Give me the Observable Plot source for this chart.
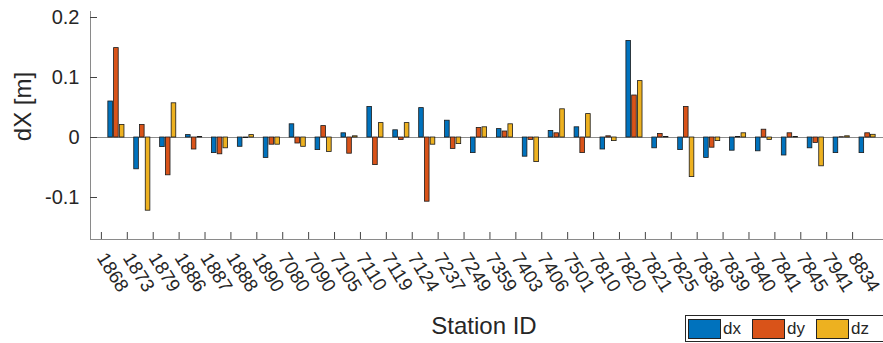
<!DOCTYPE html>
<html>
<head>
<meta charset="utf-8">
<script src="https://cdn.jsdelivr.net/npm/d3@7"></script>
<script src="https://cdn.jsdelivr.net/npm/@observablehq/plot@0.6"></script>
<style>
  html, body { margin: 0; padding: 0; background: #fff; overflow: hidden; }
  #wrap { position: relative; width: 883px; height: 343px; overflow: hidden;
          font-family: "Liberation Sans", Arial, sans-serif; color: #262626; }
  #wrap svg { overflow: visible; }
  g[aria-label="y-axis tick label"] { font-size: 20px; }
  g[aria-label="x-axis tick label"] { font-size: 19px; }
  #legend { position: absolute; left: 685px; top: 315px; height: 25px; width: 220px;
            border: 1px solid #262626; background: #fff; display: flex; align-items: center;
            font-size: 17px; box-sizing: content-box; }
  #legend .sw { width: 31px; height: 18px; border: 1px solid #222; flex: none; }
  #legend .lb { padding-left: 2px; width: 29px; flex: none; line-height: 25px; }
</style>
</head>
<body>
<div id="wrap"></div>
<script>
const stations = ["1868","1873","1879","1886","1887","1888","1890","7080","7090","7105",
  "7110","7119","7124","7237","7249","7359","7403","7406","7501","7810",
  "7820","7821","7825","7838","7839","7840","7841","7845","7941","8834"];
const dx = [0.060, -0.053, -0.016, 0.004, -0.026, -0.0155, -0.034, 0.022, -0.021, 0.007,
  0.051, 0.012, 0.049, 0.028, -0.026, 0.014, -0.032, 0.011, 0.017, -0.020,
  0.161, -0.018, -0.021, -0.034, -0.022, -0.023, -0.030, -0.018, -0.026, -0.026];
const dy = [0.149, 0.021, -0.063, -0.020, -0.028, -0.001, -0.012, -0.010, 0.019, -0.027,
  -0.046, -0.004, -0.107, -0.019, 0.016, 0.010, -0.004, 0.007, -0.026, 0.002,
  0.070, 0.006, 0.051, -0.017, 0.001, 0.013, 0.007, -0.009, 0.0005, 0.007];
const dz = [0.021, -0.122, 0.057, 0.001, -0.018, 0.004, -0.012, -0.0155, -0.024, 0.002,
  0.024, 0.024, -0.012, -0.011, 0.017, 0.022, -0.041, 0.047, 0.039, -0.006,
  0.094, 0.001, -0.066, -0.006, 0.007, -0.004, 0.001, -0.048, 0.002, 0.0045];
const seriesNames = ["dx", "dy", "dz"];
const seriesColors = ["#0072BD", "#D95319", "#EDB120"];
const yTicks = [-0.1, 0, 0.1, 0.2];
const yDomain = [-0.17, 0.21];
const xLabel = "Station ID";
const yLabel = "dX [m]";

const nSeries = 3;
const groupStep = (2 / 3) / nSeries;
const barW = groupStep * 0.8;
const rows = [];
[dx, dy, dz].forEach((vals, s) => vals.forEach((v, i) => rows.push({
  station: stations[i], pos: i + 1 + (s - (nSeries - 1) / 2) * groupStep,
  series: seriesNames[s], value: v
})));

const chart = Plot.plot({
  width: 883, height: 343,
  marginLeft: 90, marginTop: 11, marginBottom: 104, marginRight: 0,
  style: {fontFamily: "Liberation Sans, Arial, sans-serif", fontSize: "20px", color: "#262626", background: "transparent", overflow: "visible"},
  x: {domain: [0, stations.length + 1], range: [90, 893]},
  y: {domain: yDomain},
  color: {domain: seriesNames, range: seriesColors},
  marks: [
    Plot.ruleY([0], {stroke: "#8c8c8c", strokeWidth: 1}),
    Plot.rect(rows, {x1: d => d.pos - barW / 2, x2: d => d.pos + barW / 2, y1: 0, y2: "value",
      fill: "series", stroke: "#1a1a1a", strokeWidth: 0.8}),
    Plot.ruleX([0], {stroke: "#8a8a8a"}),
    Plot.ruleY([yDomain[0]], {stroke: "#8a8a8a"}),
    Plot.axisY({ticks: yTicks, tickFormat: d => String(d), tickSize: -7, tickPadding: 18,
      stroke: "#444", label: null}),
    Plot.axisX({ticks: d3.range(1, stations.length + 1), tickFormat: i => stations[i - 1],
      tickSize: -7, tickPadding: 22, tickRotate: 58, textAnchor: "start", lineAnchor: "middle", dx: -15,
      stroke: "#444", label: null}),
    Plot.text([yLabel], {text: d => d, frameAnchor: "left", rotate: -90, textAnchor: "middle",
      lineAnchor: "top", dx: -77, dy: -19, fontSize: 24, fill: "#262626"}),
    Plot.text([xLabel], {text: d => d, frameAnchor: "bottom", textAnchor: "middle",
      lineAnchor: "bottom", dx: -3, dy: 94, fontSize: 24, fill: "#262626"})
  ]
});
document.getElementById("wrap").appendChild(chart);

// legend
const legend = document.createElement("div");
legend.id = "legend";
seriesNames.forEach((name, i) => {
  const sw = document.createElement("span");
  sw.className = "sw";
  sw.style.background = seriesColors[i];
  if (i === 0) sw.style.marginLeft = "2px";
  const lb = document.createElement("span");
  lb.className = "lb";
  lb.textContent = name;
  legend.appendChild(sw);
  legend.appendChild(lb);
});
document.getElementById("wrap").appendChild(legend);
</script>
</body>
</html>
